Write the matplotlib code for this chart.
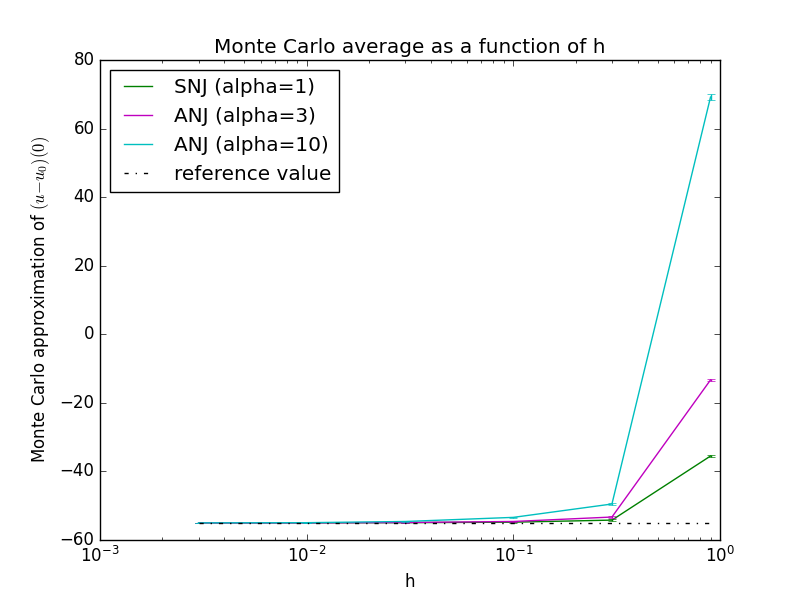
import matplotlib
matplotlib.use("Agg")
import matplotlib.pyplot as plt
import numpy as np

plt.style.use('classic')

h = [0.003, 0.01, 0.03, 0.1, 0.3, 0.9]
snj1 = [-55.0, -55.0, -54.95, -54.8, -54.2, -35.5]
anj3 = [-55.0, -55.0, -54.9, -54.6, -53.3, -13.3]
anj10 = [-55.0, -54.95, -54.6, -53.4, -49.5, 69.2]
err_snj1 = [0.05, 0.05, 0.05, 0.1, 0.2, 0.3]
err_anj3 = [0.05, 0.05, 0.05, 0.1, 0.3, 0.4]
err_anj10 = [0.05, 0.05, 0.1, 0.15, 0.4, 1.0]
ref_value = -55.0

fig = plt.figure(figsize=(8, 6), dpi=100)
ax = fig.add_subplot(111)

series = [
    (snj1, err_snj1, 'g', 'SNJ (alpha=1)'),
    (anj3, err_anj3, 'm', 'ANJ (alpha=3)'),
    (anj10, err_anj10, 'c', 'ANJ (alpha=10)'),
]
for vals, errs, col, lab in series:
    ax.plot(h, vals, color=col, label=lab)
    ax.errorbar(h, vals, yerr=errs, color=col, fmt='none', capsize=3)

ax.plot(h, [ref_value] * len(h), 'k-.', label='reference value')

ax.set_xscale('log')
ax.set_xlim(1e-3, 1e0)
ax.set_ylim(-60, 80)
ax.set_title('Monte Carlo average as a function of h')
ax.set_xlabel('h')
ax.set_ylabel('Monte Carlo approximation of $(u{-}u_0)(0)$')
ax.legend(loc='upper left')

fig.savefig('out.png', dpi=100)
